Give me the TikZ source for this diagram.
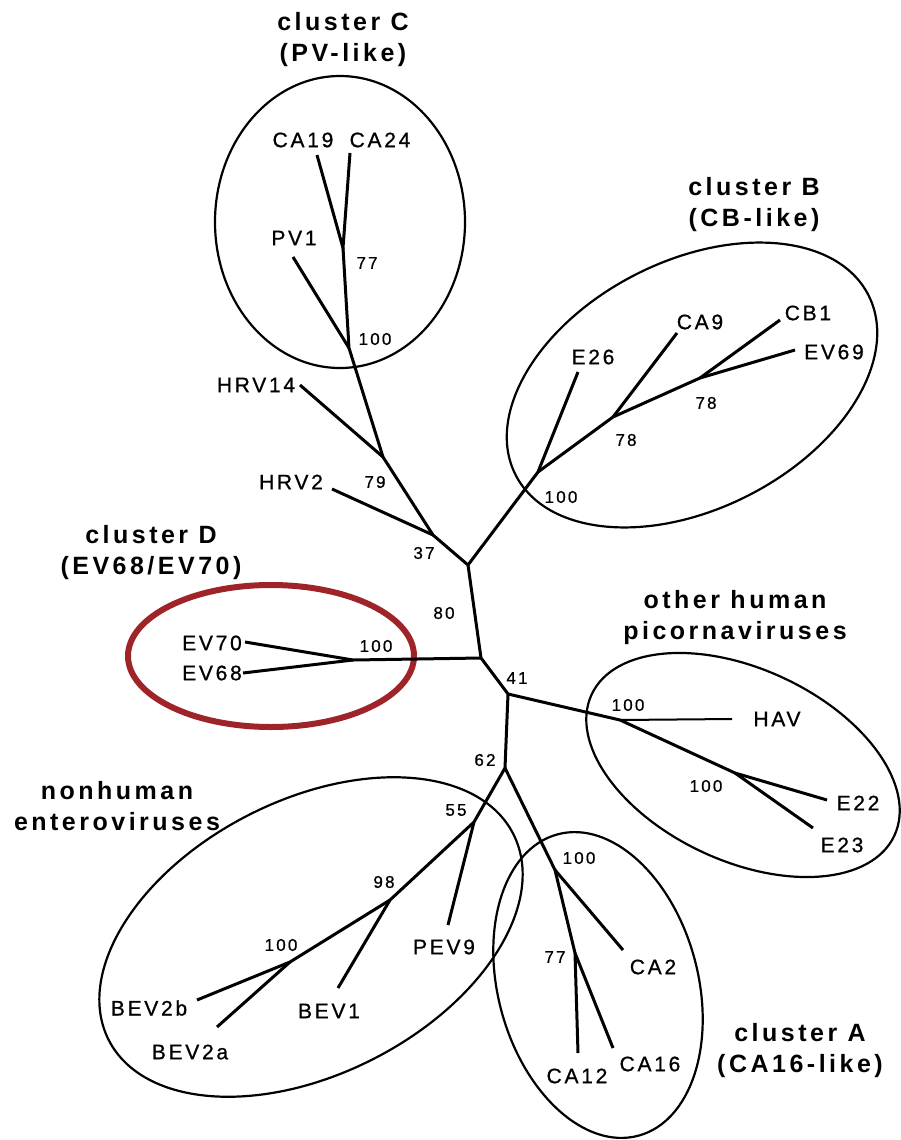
\documentclass[tikz,border=0pt]{standalone}
\usepackage{fontspec}
\setmainfont{Liberation Sans}[LetterSpace=14]
\newfontfamily\medfont{Liberation Sans}[LetterSpace=13,FakeBold=0.8]
\usepackage{tikz}
\definecolor{hlred}{RGB}{158,36,42}

\begin{document}
\begin{tikzpicture}[x=1pt,y=-1pt,
  br/.style={line width=3pt},
  hull/.style={line width=2.2pt},
  tx/.style={font=\medfont\fontsize{21}{24}\selectfont,inner sep=0pt},
  bs/.style={font=\medfont\fontsize{17}{20}\selectfont,inner sep=0pt},
  cl/.style={font=\fontsize{25}{31}\selectfont\bfseries,align=center,inner sep=0pt}]
  \useasboundingbox (0,0) rectangle (901,1140);
  \draw[hull] (340,222) ellipse [x radius=125, y radius=146];
  \draw[hull,rotate around={27:(692,385)}] (692,385) ellipse [x radius=198, y radius=124];
  \draw[line width=6pt,hlred] (271,656) ellipse [x radius=143, y radius=71];
  \draw[hull,rotate around={-25:(743,765)}] (743,765) ellipse [x radius=167, y radius=96];
  \draw[hull,rotate around={15:(598,985)}] (598,985) ellipse [x radius=100, y radius=156];
  \draw[hull,rotate around={27:(311,937)}] (311,937) ellipse [x radius=227, y radius=137];
  \coordinate (c77) at (343,248);
  \coordinate (c100) at (349,348);
  \coordinate (n79) at (383,457);
  \coordinate (n37) at (433,535);
  \coordinate (nB) at (468,565);
  \coordinate (n80) at (481,658);
  \coordinate (n41) at (508,694);
  \coordinate (n62) at (505,768);
  \coordinate (b100) at (538,472);
  \coordinate (b78) at (613,417);
  \coordinate (b78b) at (700,378);
  \coordinate (d100) at (353,660);
  \coordinate (h100) at (620,720);
  \coordinate (h100b) at (735,773);
  \coordinate (n55) at (474,822);
  \coordinate (n98) at (390,900);
  \coordinate (n100) at (290,962);
  \coordinate (a100) at (555,870);
  \coordinate (a77) at (575,953);
  \coordinate (tCA19) at (317,155);
  \coordinate (tCA24) at (350,153);
  \coordinate (tPV1) at (293,257);
  \coordinate (tHRV14) at (300,385);
  \coordinate (tHRV2) at (332,489);
  \coordinate (tE26) at (578,372);
  \coordinate (tCA9) at (677,333);
  \coordinate (tCB1) at (780,320);
  \coordinate (tEV69) at (795,350);
  \coordinate (tEV70) at (245,642);
  \coordinate (tEV68) at (243,673);
  \coordinate (tHAV) at (732,719);
  \coordinate (tE22) at (827,800);
  \coordinate (tE23) at (813,828);
  \coordinate (tCA2) at (623,950);
  \coordinate (tCA12) at (578,1053);
  \coordinate (tCA16) at (613,1048);
  \coordinate (tPEV9) at (448,925);
  \coordinate (tBEV1) at (338,988);
  \coordinate (tBEV2b) at (197,1000);
  \coordinate (tBEV2a) at (217,1027);
  \draw[br] (tCA19) -- (c77) -- (tCA24);
  \draw[br] (c77) -- (c100) -- (n79) -- (n37) -- (nB) -- (n80) -- (n41) -- (n62);
  \draw[br] (tPV1) -- (c100);
  \draw[br] (tHRV14) -- (n79);
  \draw[br] (tHRV2) -- (n37);
  \draw[br] (nB) -- (b100) -- (b78) -- (b78b) -- (tEV69);
  \draw[br] (b100) -- (tE26);
  \draw[br] (b78) -- (tCA9);
  \draw[br] (b78b) -- (tCB1);
  \draw[br] (n80) -- (d100) -- (tEV70);
  \draw[br] (d100) -- (tEV68);
  \draw[br] (n41) -- (h100) -- (h100b) -- (tE22);
  \draw[br] (h100b) -- (tE23);
  \draw[line width=2pt] (h100) -- (tHAV);
  \draw[br] (n62) -- (n55) -- (n98) -- (n100) -- (tBEV2b);
  \draw[br] (n100) -- (tBEV2a);
  \draw[br] (n98) -- (tBEV1);
  \draw[br] (n55) -- (tPEV9);
  \draw[br] (n62) -- (a100) -- (a77) -- (tCA12);
  \draw[br] (a77) -- (tCA16);
  \draw[br] (a100) -- (tCA2);
  \node[tx] (lCA19) at (303,140) {CA19};
  \node[tx] (lCA24) at (380,140) {CA24};
  \node[tx] (lPV1) at (294,238) {PV1};
  \node[tx] (lHRV14) at (256,385) {HRV14};
  \node[tx] (lHRV2) at (291,482) {HRV2};
  \node[tx] (lE26) at (593,357) {E26};
  \node[tx] (lCA9) at (700,322) {CA9};
  \node[tx] (lCB1) at (808,313) {CB1};
  \node[tx] (lEV69) at (834,352) {EV69};
  \node[tx] (lEV70) at (212,643) {EV70};
  \node[tx] (lEV68) at (212,673) {EV68};
  \node[tx] (lHAV) at (777,719) {HAV};
  \node[tx] (lE22) at (858,803) {E22};
  \node[tx] (lE23) at (842,845) {E23};
  \node[tx] (lCA2) at (653,967) {CA2};
  \node[tx] (lCA12) at (577,1076) {CA12};
  \node[tx] (lCA16) at (650,1064) {CA16};
  \node[tx] (lPEV9) at (444,947) {PEV9};
  \node[tx] (lBEV1) at (329,1011) {BEV1};
  \node[tx] (lBEV2b) at (149,1008) {BEV2b};
  \node[tx] (lBEV2a) at (190,1052) {BEV2a};
  \node[bs] (bsC77) at (367,263) {77};
  \node[bs] (bsC100) at (375,339) {100};
  \node[bs] (bs79) at (375,482) {79};
  \node[bs] (bs37) at (424,553) {37};
  \node[bs] (bs80) at (444,613) {80};
  \node[bs] (bs41) at (517,678) {41};
  \node[bs] (bs62) at (485,760) {62};
  \node[bs] (bsB100) at (561,497) {100};
  \node[bs] (bsB78) at (626,440) {78};
  \node[bs] (bsB78b) at (706,403) {78};
  \node[bs] (bsD100) at (376,646) {100};
  \node[bs] (bsH100) at (628,705) {100};
  \node[bs] (bsH100b) at (706,786) {100};
  \node[bs] (bsN55) at (456,810) {55};
  \node[bs] (bsN98) at (384,882) {98};
  \node[bs] (bsN100) at (281,945) {100};
  \node[bs] (bsA100) at (579,858) {100};
  \node[bs] (bsA77) at (555,957) {77};
  \node[cl] (clC) at (343,40) {cluster C\\(PV-like)};
  \node[cl] (clB) at (754,205) {cluster B\\(CB-like)};
  \node[cl] (clD) at (151,553) {cluster D\\(EV68/EV70)};
  \node[cl] (clH) at (735,618) {other human\\picornaviruses};
  \node[cl] (clN) at (117,806) {nonhuman\\enteroviruses};
  \node[cl] (clA) at (800,1051) {cluster A\\(CA16-like)};
\end{tikzpicture}
\end{document}
